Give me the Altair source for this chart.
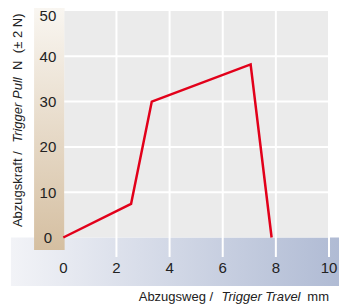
import altair as alt
import pandas as pd

# data
travel = [0, 2.55, 3.33, 7.05, 7.84]
force = [0, 7.4, 30.0, 38.2, 0]
x_ticks = [0, 2, 4, 6, 8, 10]
y_ticks = [0, 10, 20, 30, 40]
y_top_tick = [50]
grid_x = [2, 4, 6, 8, 10]
grid_y = [10, 20, 30, 40]

W, H = 331, 298
XPPU, X0 = 26.57, 55.3
YPPU, Y0 = 4.53, 229.5
XD = [-X0 / XPPU, (W - X0) / XPPU]
YD = [-(H - Y0) / YPPU, Y0 / YPPU]

FONT = "Liberation Sans, Arial, Helvetica, sans-serif"

xs = alt.Scale(domain=XD, nice=False, zero=False)
ys = alt.Scale(domain=YD, nice=False, zero=False)


def X(f="x"):
    return alt.X(f"{f}:Q", scale=xs, axis=None)


def Y(f="y"):
    return alt.Y(f"{f}:Q", scale=ys, axis=None)


blue = alt.Chart(pd.DataFrame({"x": [-1.97], "x2": [XD[1]], "y": [0], "y2": [-10.7]})).mark_rect(
    color={"gradient": "linear", "x1": 0, "y1": 0, "x2": 1, "y2": 0,
           "stops": [{"offset": 0, "color": "#f2f3f7"}, {"offset": 1, "color": "#b0bbd4"}]}
).encode(x=X(), x2="x2:Q", y=Y(), y2="y2:Q")

tan = alt.Chart(pd.DataFrame({"x": [-1.1], "x2": [0.05], "y": [YD[1]], "y2": [-2.76]})).mark_rect(
    color={"gradient": "linear", "x1": 0, "y1": 0, "x2": 0, "y2": 1,
           "stops": [{"offset": 0, "color": "#f9f6f1"}, {"offset": 1, "color": "#d5bfa1"}]}
).encode(x=X(), x2="x2:Q", y=Y(), y2="y2:Q")

gray = alt.Chart(pd.DataFrame({"x": [0.04], "x2": [10], "y": [0], "y2": [50]})).mark_rect(
    color="#ebebeb"
).encode(x=X(), x2="x2:Q", y=Y(), y2="y2:Q")

vgrid = alt.Chart(pd.DataFrame({"x": grid_x, "y": [-4.3] * len(grid_x), "y2": [50] * len(grid_x)})).mark_rule(
    color="white", strokeWidth=2
).encode(x=X(), y=Y(), y2="y2:Q")

hgrid = alt.Chart(pd.DataFrame({"y": grid_y, "x": [0.04] * len(grid_y), "x2": [10] * len(grid_y)})).mark_rule(
    color="white", strokeWidth=2
).encode(y=Y(), x=X(), x2="x2:Q")

line = alt.Chart(pd.DataFrame({"x": travel, "y": force})).mark_line(
    color="#e2001a", strokeWidth=2.5, strokeJoin="miter"
).encode(x=X(), y=Y())

ylab = alt.Chart(pd.DataFrame({"y": y_ticks, "x": [-0.58] * len(y_ticks), "t": [str(v) for v in y_ticks]})).mark_text(
    font=FONT, fontSize=15, color="#222222", align="center", baseline="middle", dy=0.5
).encode(x=X(), y=Y(), text="t:N")

ylab_top = alt.Chart(pd.DataFrame({"y": y_top_tick, "x": [-0.58], "t": [str(v) for v in y_top_tick]})).mark_text(
    font=FONT, fontSize=15, color="#222222", align="center", baseline="middle", dy=5
).encode(x=X(), y=Y(), text="t:N")

xlab = alt.Chart(pd.DataFrame({"x": x_ticks, "y": [-6.73] * len(x_ticks), "t": [str(v) for v in x_ticks]})).mark_text(
    font=FONT, fontSize=15, color="#222222", align="center", baseline="middle"
).encode(x=X(), y=Y(), text="t:N")

# x-axis title pieces
xt_y = -13.1
xt1 = alt.Chart(pd.DataFrame({"x": [5.64], "y": [xt_y], "t": ["Abzugsweg /"]})).mark_text(
    font=FONT, fontSize=13, color="#222222", align="right", baseline="middle"
).encode(x=X(), y=Y(), text="t:N")
xt2 = alt.Chart(pd.DataFrame({"x": [5.955], "y": [xt_y], "t": ["Trigger Travel"]})).mark_text(
    font=FONT, fontSize=13, fontStyle="italic", color="#222222", align="left", baseline="middle"
).encode(x=X(), y=Y(), text="t:N")
xt3 = alt.Chart(pd.DataFrame({"x": [10.0], "y": [xt_y], "t": ["mm"]})).mark_text(
    font=FONT, fontSize=13, color="#222222", align="right", baseline="middle"
).encode(x=X(), y=Y(), text="t:N")

# y-axis title pieces (rotated)
yt_x = -1.705
yt1 = alt.Chart(pd.DataFrame({"x": [yt_x], "y": [2.3], "t": ["Abzugskraft /"]})).mark_text(
    font=FONT, fontSize=13, color="#222222", align="left", baseline="middle", angle=270
).encode(x=X(), y=Y(), text="t:N")
yt2 = alt.Chart(pd.DataFrame({"x": [yt_x], "y": [20.9], "t": ["Trigger Pull"]})).mark_text(
    font=FONT, fontSize=13, fontStyle="italic", color="#222222", align="left", baseline="middle", angle=270
).encode(x=X(), y=Y(), text="t:N")
yt3 = alt.Chart(pd.DataFrame({"x": [yt_x], "y": [38.0], "t": ["N"]})).mark_text(
    font=FONT, fontSize=13, color="#222222", align="center", baseline="middle", angle=270
).encode(x=X(), y=Y(), text="t:N")
yt4 = alt.Chart(pd.DataFrame({"x": [yt_x], "y": [40.7], "t": ["(± 2 N)"]})).mark_text(
    font=FONT, fontSize=13, color="#222222", align="left", baseline="middle", angle=270
).encode(x=X(), y=Y(), text="t:N")

chart = alt.layer(
    blue, tan, gray, vgrid, hgrid, line, ylab, ylab_top, xlab, xt1, xt2, xt3, yt1, yt2, yt3, yt4
).properties(
    width=W, height=H, autosize="none", padding=0, background="white"
).configure_view(stroke=None)

chart.save("out.html", embed_options={"renderer": "svg", "actions": False})
